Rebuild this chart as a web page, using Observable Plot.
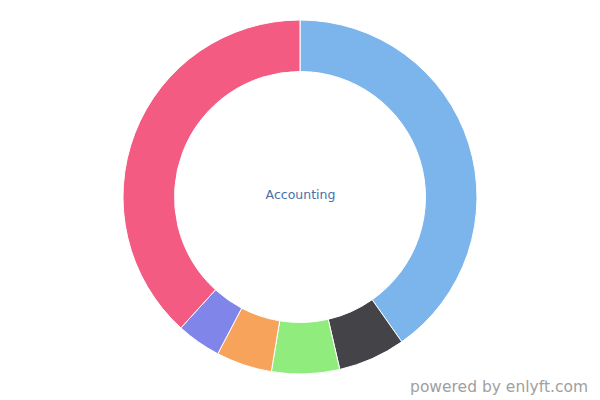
<!DOCTYPE html>
<html>
<head>
<meta charset="utf-8">
<script src="https://cdn.jsdelivr.net/npm/d3@7"></script>
<script src="https://cdn.jsdelivr.net/npm/@observablehq/plot@0.6"></script>
<style>
  html, body { margin: 0; padding: 0; background: #fff; }
  #chart { position: relative; width: 600px; height: 400px; }
  #credit { position: absolute; right: 12px; bottom: 4px; font-family: "DejaVu Sans", sans-serif; font-size: 15.5px; color: #a0a0a0; }
</style>
</head>
<body>
<div id="chart"></div>
<script>
const categories = ["A", "B", "C", "D", "E", "F"];
const values = [40.25, 6.14, 6.2, 5.1, 4.06, 38.25];
const colors = ["#7cb5ec", "#434348", "#90ed7d", "#f7a35c", "#8085e9", "#f45b82"];
const centerLabel = "Accounting";

const data = categories.map((c, i) => ({category: c, value: values[i]}));
const pie = d3.pie().value(d => d.value).sort(null)(data);

function donut(index, scales, values_, dimensions, context) {
  const cx = scales.x(300), cy = scales.y(197);
  const R = Math.abs(scales.x(177) - scales.x(0));
  const r = Math.abs(scales.x(125.5) - scales.x(0));
  const arc = d3.arc().innerRadius(r).outerRadius(R);
  const g = d3.create("svg:g").attr("transform", `translate(${cx},${cy})`);
  g.selectAll("path").data(pie).join("path")
    .attr("d", arc)
    .attr("fill", d => scales.color(d.data.category))
    .attr("stroke", "#ffffff")
    .attr("stroke-width", 1)
    .attr("stroke-linejoin", "round");
  return g.node();
}

const plot = Plot.plot({
  width: 600,
  height: 400,
  margin: 0,
  x: {domain: [0, 600], range: [0, 600], axis: null},
  y: {domain: [0, 400], range: [0, 400], axis: null},
  color: {domain: categories, range: colors},
  style: {background: "#fff"},
  marks: [
    Plot.dot(data, {x: () => 300, y: () => 197, fill: "category", r: 0, fillOpacity: 0}),
    donut,
    Plot.text([centerLabel], {x: () => 300, y: () => 194, text: d => d, fill: "#4a6fa8", fontSize: 12.5, fontFamily: "DejaVu Sans, sans-serif"})
  ]
});
document.getElementById("chart").appendChild(plot);
const credit = document.createElement("div");
credit.id = "credit";
credit.textContent = "powered by enlyft.com";
document.getElementById("chart").appendChild(credit);
</script>
</body>
</html>
